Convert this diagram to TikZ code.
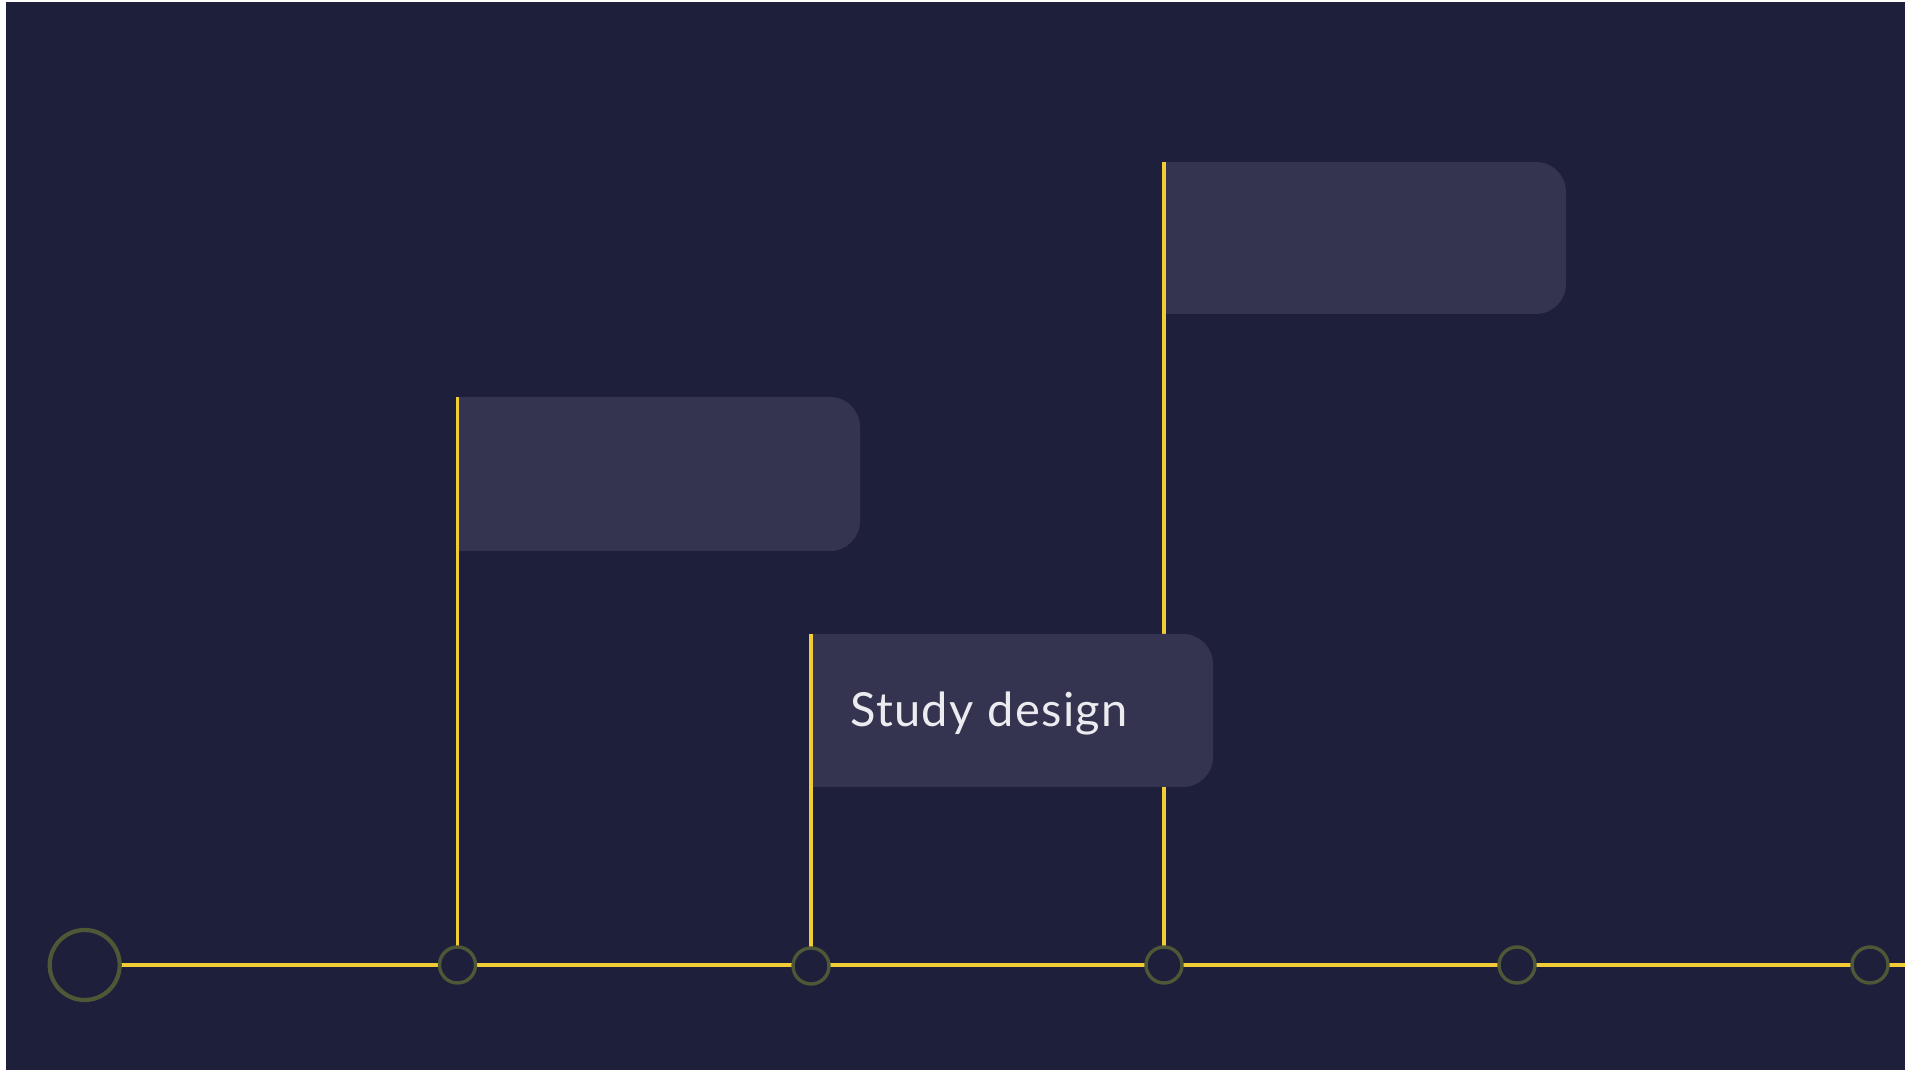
\documentclass[tikz,border=0pt]{standalone}
\usepackage{fontspec}
\setmainfont{Lato}
\newfontfamily\labelfont[LetterSpace=3]{Lato}
\definecolor{bgnavy}{RGB}{30,32,59}
\definecolor{flagfill}{RGB}{52,52,80}
\definecolor{lineyellow}{RGB}{242,204,54}
\definecolor{ringgreen}{RGB}{78,88,54}
\definecolor{labelwhite}{RGB}{236,236,240}
\begin{document}
\begin{tikzpicture}[x=1pt,y=1pt,
  track/.style={draw=lineyellow,line width=3.5pt},
  pole/.style={draw=lineyellow,line width=3.5pt},
  bigring/.style={circle,draw=ringgreen,fill=bgnavy,line width=4.2pt,minimum size=70pt,inner sep=0pt},
  ring/.style={circle,draw=ringgreen,fill=bgnavy,line width=3.4pt,minimum size=36pt,inner sep=0pt},
  flagbox/.style={fill=flagfill},
  flaglabel/.style={text=labelwhite,font=\labelfont\fontsize{47}{50}\selectfont,inner sep=0pt,anchor=base west}]
\useasboundingbox (0,0) rectangle (1907,1072);
\fill[white] (0,0) rectangle (1907,1072);
\fill[bgnavy] (6,2) rectangle (1905,1070);
% coordinates
\coordinate (b0) at (84.7,107);
\coordinate (p1) at (457.5,107);
\coordinate (p2) at (811,106);
\coordinate (p3) at (1164,107);
\coordinate (p4) at (1517,107);
\coordinate (p5) at (1870,107);
\coordinate (tend) at (1905,107);
\coordinate (t1) at (457.5,675);
\coordinate (t2) at (811,438);
\coordinate (t3) at (1164,910);
% timeline and poles
\draw[track] (b0) -- (tend);
\draw[pole] (p1) -- (t1);
\draw[pole] (p2) -- (t2);
\draw[pole] (p3) -- (t3);
% flags
\fill[flagbox] (459,675) -- (830,675) arc[start angle=90,end angle=0,radius=30] -- (860,551) arc[start angle=0,end angle=-90,radius=30] -- (459,521) -- cycle;
\fill[flagbox] (813,438) -- (1183,438) arc[start angle=90,end angle=0,radius=30] -- (1213,315) arc[start angle=0,end angle=-90,radius=30] -- (813,285) -- cycle;
\fill[flagbox] (1166,910) -- (1536,910) arc[start angle=90,end angle=0,radius=30] -- (1566,788) arc[start angle=0,end angle=-90,radius=30] -- (1166,758) -- cycle;
% re-draw pole edges on flags
\draw[pole] (t1) -- ++(0,-154);
\draw[pole] (t2) -- ++(0,-153);
\draw[pole] (t3) -- ++(0,-152);
\node[flaglabel] (lab) at (850,345) {Study design};
% rings
\node[bigring] (n0) at (b0) {};
\node[ring] (n1) at (p1) {};
\node[ring] (n2) at (p2) {};
\node[ring] (n3) at (p3) {};
\node[ring] (n4) at (p4) {};
\node[ring] (n5) at (p5) {};
\end{tikzpicture}
\end{document}
